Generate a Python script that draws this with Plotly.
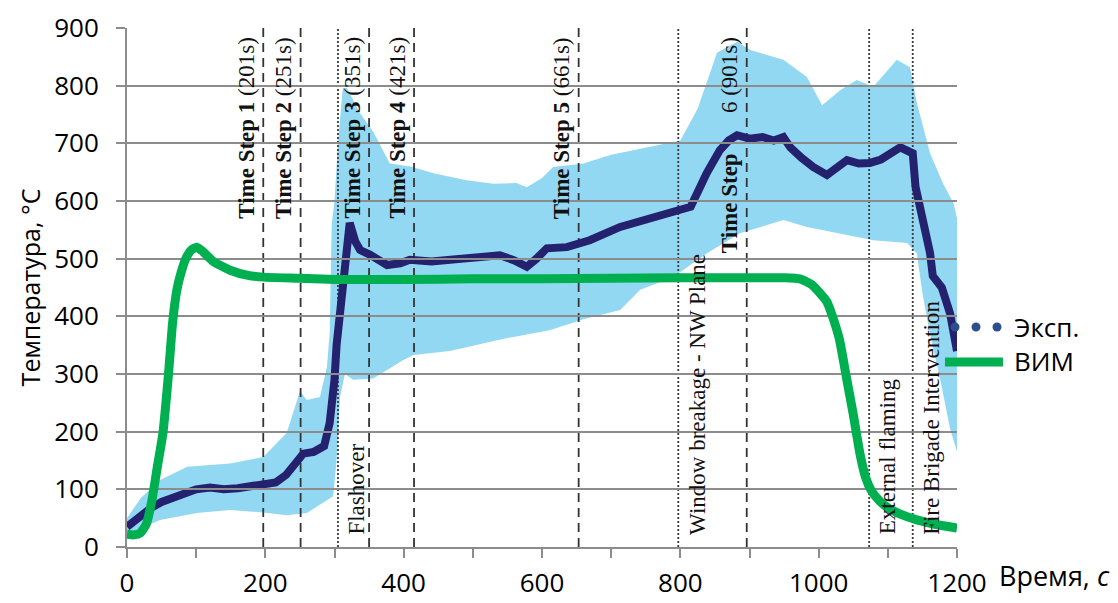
import plotly.graph_objects as go

# ---------------- data ----------------
t_exp = [0, 10, 20, 35, 50, 65, 80, 100, 120, 140, 160, 180, 200, 215, 230, 245, 255, 270, 285,
         293, 297, 300, 303, 307, 312, 318, 322, 330, 337, 351, 365, 376, 395, 409, 440, 467, 500,
         539, 560, 578, 592, 607, 636, 669, 713, 746, 770, 790, 815, 825, 838, 857, 870, 882, 900,
         919, 935, 949, 959, 975, 992, 1012, 1025, 1041, 1058, 1074, 1090, 1103, 1118, 1132, 1136,
         1140, 1151, 1161, 1165, 1178, 1190, 1200]
v_exp = [35, 45, 55, 68, 78, 85, 92, 100, 103, 100, 102, 105, 108, 112, 125, 145, 162, 165, 175,
         215, 250, 290, 350, 400, 460, 540, 562, 530, 515, 507, 495, 489, 492, 498, 495, 498, 500,
         506, 497, 486, 500, 518, 520, 532, 555, 567, 575, 584, 590, 615, 648, 688, 705, 714, 708,
         711, 705, 711, 693, 675, 659, 645, 655, 671, 665, 666, 672, 680, 693, 685, 683,
         625, 567, 510, 470, 450, 405, 340]

t_upper = [0, 20, 48, 87, 149, 197, 231, 245, 250, 260, 279, 289, 293, 296, 300, 305, 312, 318,
           337, 356, 380, 410, 443, 491, 530, 563, 578, 600, 616, 660, 700, 732, 770, 800, 825,
           853, 882, 901, 949, 983, 1005, 1031, 1055, 1079, 1113, 1132, 1142, 1161, 1180, 1195, 1200]
v_upper = [50, 85, 116, 139, 145, 156, 198, 250, 270, 255, 260, 312, 371, 560, 600, 700, 796, 796,
           752, 720, 665, 660, 648, 636, 630, 631, 624, 640, 659, 665, 680, 688, 698, 705, 760,
           857, 876, 862, 845, 815, 766, 792, 810, 798, 845, 832, 770, 683, 630, 596, 570]

t_lower = [0, 48, 101, 149, 197, 231, 260, 289, 298, 303, 308, 315, 327, 356, 399, 414, 467, 540,
           611, 660, 713, 742, 790, 838, 886, 949, 983, 1031, 1079, 1128, 1142, 1150, 1160, 1175,
           1190, 1200]
v_lower = [22, 47, 59, 64, 60, 55, 59, 81, 88, 150, 260, 300, 290, 292, 324, 333, 340, 360,
           376, 395, 411, 446, 468, 509, 544, 567, 555, 544, 532, 527, 509, 440, 375, 295,
           205, 165]

t_vim = [0, 10, 19, 28, 36, 44, 52, 60, 66, 72, 78, 85, 93, 101, 110, 125, 149, 175, 197, 250,
         300, 400, 500, 600, 700, 800, 900, 950, 973, 990, 1002, 1012, 1020, 1030, 1040, 1050,
         1060, 1068, 1076, 1088, 1100, 1120, 1142, 1170, 1200]
v_vim = [22, 21, 24, 40, 81, 140, 198, 300, 390, 445, 475, 500, 515, 520, 512, 495, 480, 471,
         468, 466, 464, 464, 465, 465, 466, 467, 467, 467, 465, 455, 440, 425, 400, 360, 295,
         230, 160, 120, 98, 80, 68, 56, 47, 39, 33]

step_times = [197, 251, 350, 415, 653, 896]
step_labels = ["<b>Time Step 1</b> (201s)", "<b>Time Step 2</b> (251s)", "<b>Time Step 3</b> (351s)",
               "<b>Time Step 4</b> (421s)", "<b>Time Step 5</b> (661s)",
               "<b>Time Step</b>" + "\u00a0" * 7 + "6 (901s)"]
event_times = [305, 797, 1073, 1136]
event_labels = ["Flashover", "Window breakage - NW Plane", "External flaming",
                "Fire Brigade Intervention"]

x_ticks = list(range(0, 1201, 100))
x_ticktext = [str(v) if v % 200 == 0 else "" for v in x_ticks]
y_ticks = list(range(0, 901, 100))

legend_names = ["Эксп.", "ВИМ"]

# ---------------- styles ----------------
BAND = "#93D8F3"
NAVY = "#24216F"
GREEN = "#00B050"
GRID = "#8C8C8C"
LEG_BLUE = "#2D4F8E"
SANS = "Open Sans, Noto Sans, sans-serif"
SERIF = "Liberation Serif, Times New Roman, serif"

fig = go.Figure()

# band (min-max of measurements)
fig.add_trace(go.Scatter(
    x=t_upper + t_lower[::-1], y=v_upper + v_lower[::-1],
    fill="toself", fillcolor=BAND, line=dict(width=0), mode="lines",
    hoverinfo="skip", showlegend=False, xaxis="x", yaxis="y"))

# vertical event lines
def vlines(times):
    xs, ys = [], []
    for t in times:
        xs += [t, t, None]
        ys += [0, 900, None]
    return xs, ys

xs, ys = vlines(step_times)
fig.add_trace(go.Scatter(x=xs, y=ys, mode="lines",
                         line=dict(color="#333333", width=1.8, dash="9px,6px"),
                         hoverinfo="skip", showlegend=False, xaxis="x", yaxis="y"))
xs, ys = vlines(event_times)
fig.add_trace(go.Scatter(x=xs, y=ys, mode="lines",
                         line=dict(color="#3a3a3a", width=1.8, dash="2px,2px"),
                         hoverinfo="skip", showlegend=False, xaxis="x", yaxis="y"))

# experimental curve
fig.add_trace(go.Scatter(x=t_exp, y=v_exp, mode="lines", name=legend_names[0],
                         line=dict(color=NAVY, width=8), showlegend=False,
                         xaxis="x", yaxis="y"))

# model curve (drawn on the upper subplot so it sits above the gridlines)
fig.add_trace(go.Scatter(x=t_vim, y=v_vim, mode="lines", name=legend_names[1],
                         line=dict(color=GREEN, width=9, shape="spline", smoothing=0.5),
                         showlegend=False, xaxis="x2", yaxis="y2"))

ann = []
for t, lab in zip(step_times, step_labels):
    ann.append(dict(x=t, y=0.9865, xref="x", yref="paper", text=lab, textangle=-90,
                    xanchor="right", yanchor="top", xshift=-3, showarrow=False,
                    font=dict(family=SERIF, size=23, color="#111111")))
for t, lab in zip(event_times, event_labels):
    ann.append(dict(x=t, y=0.02, xref="x", yref="paper", text=lab, textangle=-90,
                    xanchor="left", yanchor="bottom", xshift=4, showarrow=False,
                    font=dict(family=SERIF, size=23, color="#111111")))

# axis title for x, placed at right
ann.append(dict(x=1.048, y=-0.054, xref="paper", yref="paper", text="Время, <i>с</i>",
                xanchor="left", yanchor="middle", showarrow=False,
                font=dict(family=SANS, size=27, color="black")))
# legend texts
ann.append(dict(x=1.0663, y=0.4239, xref="paper", yref="paper", text=legend_names[0],
                xanchor="left", yanchor="middle", showarrow=False,
                font=dict(family=SANS, size=26, color="black")))
ann.append(dict(x=1.0663, y=0.3584, xref="paper", yref="paper", text=legend_names[1],
                xanchor="left", yanchor="middle", showarrow=False,
                font=dict(family=SANS, size=26, color="black")))

shapes = []
for xc in [0.9976, 1.0229, 1.0482]:
    shapes.append(dict(type="circle", xref="paper", yref="paper", xsizemode="pixel",
                       ysizemode="pixel", xanchor=xc, yanchor=0.4239,
                       x0=-4.5, x1=4.5, y0=-4.5, y1=4.5,
                       fillcolor=LEG_BLUE, line=dict(width=0)))
shapes.append(dict(type="line", xref="paper", yref="paper", x0=0.9855, x1=1.0554,
                   y0=0.3565, y1=0.3565, line=dict(color=GREEN, width=9)))

tickfont = dict(family=SANS, size=26, color="black")
fig.update_layout(
    width=1118, height=603,
    margin=dict(l=127, r=161, t=28, b=56, autoexpand=False),
    paper_bgcolor="white", plot_bgcolor="rgba(0,0,0,0)",
    showlegend=False,
    xaxis=dict(range=[0, 1200], visible=False, domain=[0, 1], fixedrange=True),
    yaxis=dict(range=[0, 900], visible=False, domain=[0, 1], fixedrange=True),
    xaxis2=dict(range=[0, 1200], domain=[0, 1], anchor="y2", tickmode="array",
                tickvals=x_ticks, ticktext=x_ticktext, ticks="outside", ticklen=9,
                tickwidth=2, tickcolor=GRID, showline=True, linecolor=GRID, linewidth=2,
                showgrid=False, zeroline=False, tickfont=tickfont, ticklabelstandoff=3),
    yaxis2=dict(range=[0, 900], domain=[0, 1], anchor="x2", tickmode="array",
                tickvals=y_ticks, ticks="outside", ticklen=9, tickwidth=2, tickcolor=GRID,
                showline=True, linecolor=GRID, linewidth=2, showgrid=True, gridcolor=GRID,
                gridwidth=1.5, zeroline=False, tickfont=tickfont, ticklabelstandoff=12,
                title=dict(text="Температура, °C", standoff=6,
                           font=dict(family=SANS, size=25, color="black"))),
    annotations=ann, shapes=shapes,
)

fig.write_html("out.html")
